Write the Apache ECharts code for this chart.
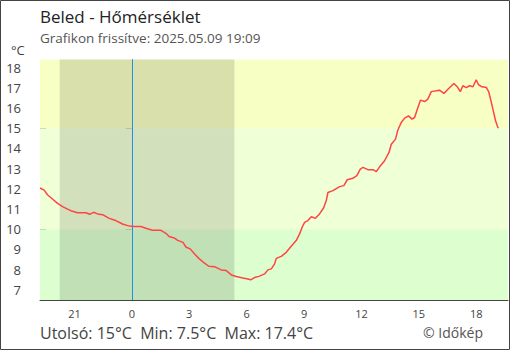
<!DOCTYPE html>
<html>
<head>
<meta charset="utf-8">
<script src="https://cdn.jsdelivr.net/npm/echarts@6/dist/echarts.min.js"></script>
<style>
html,body{margin:0;padding:0;background:#fff;}
#c{width:510px;height:350px;}
</style>
</head>
<body>
<div id="c"></div>
<script>
// Data (hours relative to midnight of 2025.05.09; negative = previous evening)
const hours = [-4.8,-4.58,-4.41,-4.15,-3.88,-3.62,-3.36,-3.19,-2.84,-2.40,-2.20,-2.00,-1.79,-1.53,-1.18,-0.84,-0.49,-0.22,0.04,0.47,0.73,1.08,1.52,1.78,1.95,2.21,2.40,2.67,2.84,3.05,3.28,3.50,3.80,4.02,4.32,4.67,4.93,5.20,5.46,5.80,6.07,6.21,6.41,6.64,6.94,7.11,7.29,7.46,7.55,7.81,8.07,8.33,8.59,8.77,8.90,9.03,9.20,9.38,9.59,9.81,10.02,10.16,10.25,10.51,10.86,11.08,11.26,11.55,11.76,11.94,12.08,12.34,12.60,12.78,12.95,13.21,13.44,13.56,13.78,13.90,14.08,14.26,14.46,14.64,14.78,14.92,15.09,15.30,15.47,15.65,15.91,16.08,16.31,16.52,16.83,17.01,17.17,17.30,17.48,17.65,17.83,18.00,18.12,18.30,18.53,18.65,18.79,18.91,19.01,19.10,19.15];
const temps = [12.04,11.94,11.71,11.50,11.28,11.12,11.00,10.92,10.82,10.82,10.74,10.84,10.76,10.72,10.54,10.43,10.26,10.18,10.14,10.14,10.05,9.95,9.95,9.80,9.64,9.57,9.45,9.35,9.11,9.03,8.78,8.56,8.32,8.17,8.15,7.99,7.96,7.74,7.66,7.59,7.54,7.5,7.61,7.67,7.79,7.99,8.04,8.29,8.56,8.66,8.86,9.16,9.44,9.77,10.10,10.34,10.43,10.62,10.54,10.76,11.05,11.41,11.82,11.91,12.11,12.16,12.45,12.52,12.65,12.98,13.06,12.95,12.95,12.85,13.09,13.39,13.80,14.21,14.46,14.90,15.28,15.50,15.61,15.45,15.53,15.94,16.39,16.32,16.44,16.81,16.85,16.88,16.72,16.93,17.21,17.05,16.81,17.10,17.01,17.10,17.05,17.4,17.15,17.05,17.01,16.81,16.27,15.78,15.37,15.12,15.0];
const xTicks = [-3,0,3,6,9,12,15,18];
const yTicks = [7,8,9,10,11,12,13,14,15,16,17,18];
const nightStart = -3.77, nightEnd = 5.36;
const bandLimits = [6.5, 10, 15, 18.4];
const titleText = 'Beled - Hőmérséklet';
const subText = 'Grafikon frissítve: 2025.05.09 19:09';
const footText = 'Utolsó: 15°C  Min: 7.5°C  Max: 17.4°C';
const copyText = '© Időkép';

const FONT = '"Open Sans", "Noto Sans", sans-serif';
const chart = echarts.init(document.getElementById('c'), null, {renderer: 'svg'});
const data = hours.map((h, i) => [h, temps[i]]);
const xMin = -4.8, xMax = 19.66;

chart.setOption({
  animation: false,
  backgroundColor: '#fff',
  grid: {left: 40, right: 2, top: 59.5, bottom: 50},
  xAxis: {
    type: 'value', min: xMin, max: xMax,
    axisLine: {lineStyle: {color: '#444', width: 1}},
    axisTick: {show: true, inside: true, length: 6, customValues: xTicks, lineStyle: {color: '#444'}},
    axisLabel: {customValues: xTicks, color: '#444', fontSize: 11, fontFamily: FONT, margin: 8,
      formatter: v => String(v < 0 ? v + 24 : v)},
    splitLine: {show: false}
  },
  yAxis: [{
    type: 'value', min: bandLimits[0], max: bandLimits[3],
    axisLine: {show: true, lineStyle: {color: '#444', width: 1}},
    axisTick: {show: true, inside: false, length: 6, customValues: yTicks, lineStyle: {color: '#444'}},
    axisLabel: {customValues: yTicks, color: '#444', fontSize: 13, fontFamily: FONT, margin: 19,
      formatter: v => String(v)},
    splitLine: {show: false}
  }, {
    type: 'value', min: bandLimits[0], max: bandLimits[3], position: 'left',
    axisLine: {show: false},
    axisTick: {show: true, inside: true, length: 6, customValues: yTicks, lineStyle: {color: '#444'}},
    axisLabel: {show: false},
    splitLine: {show: false}
  }],
  series: [{
    type: 'line',
    data: data,
    showSymbol: false,
    smooth: false,
    lineStyle: {color: '#f44', width: 1.5},
    z: 5,
    markArea: {
      silent: true,
      data: [
        [{yAxis: bandLimits[2], itemStyle: {color: '#f7ffc4'}}, {yAxis: bandLimits[3]}],
        [{yAxis: bandLimits[1], itemStyle: {color: '#efffd6'}}, {yAxis: bandLimits[2]}],
        [{yAxis: bandLimits[0], itemStyle: {color: '#ddffd0'}}, {yAxis: bandLimits[1]}],
        [{xAxis: nightStart, itemStyle: {color: 'rgba(0,0,0,0.12)'}}, {xAxis: nightEnd}]
      ]
    },
    markLine: {
      silent: true, symbol: 'none', label: {show: false},
      lineStyle: {color: '#1e90ee', type: 'solid', width: 1},
      data: [{xAxis: 0}]
    }
  }],
  graphic: [
    {type: 'rect', shape: {x: 0.5, y: 0.5, width: 509, height: 349}, style: {fill: 'none', stroke: '#444', lineWidth: 1}, z: 100},
    {type: 'text', left: 40, top: 8, style: {text: titleText, fill: '#222', font: '17px ' + FONT}},
    {type: 'text', left: 40, top: 31, style: {text: subText, fill: '#555', font: '13.5px ' + FONT}},
    {type: 'text', left: 11, top: 43, style: {text: '°C', fill: '#444', font: '13px ' + FONT}},
    {type: 'text', left: 40, top: 325, style: {text: footText, fill: '#444', font: '16px ' + FONT}},
    {type: 'text', left: 423, top: 325, style: {text: copyText, fill: '#555', font: '14px ' + FONT}}
  ]
});
</script>
</body>
</html>
